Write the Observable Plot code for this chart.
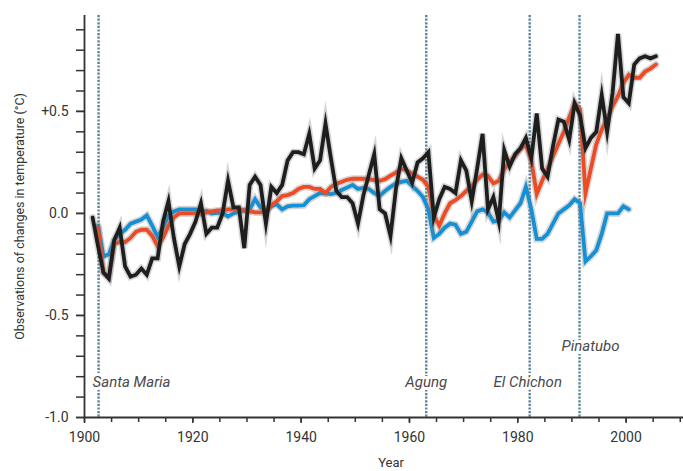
<!DOCTYPE html>
<html><head><meta charset="utf-8">
<script src="https://cdn.jsdelivr.net/npm/d3@7"></script>
<script src="https://cdn.jsdelivr.net/npm/@observablehq/plot@0.6"></script>
<style>
html,body{margin:0;padding:0;background:#fff;}
#chart svg{display:block;}
</style></head><body><div id="chart"></div>
<script>
// Observations (black), 1901–2005
const obsYears = d3.range(1901, 2006);
const observed = [
 -0.02,-0.16,-0.29,-0.32,-0.13,-0.07,-0.26,-0.31,-0.30,-0.27,
 -0.30,-0.22,-0.22,-0.04,0.06,-0.12,-0.26,-0.15,-0.10,-0.04,
 0.05,-0.10,-0.07,-0.07,0.00,0.16,0.03,0.03,-0.17,0.14,
 0.18,0.14,-0.05,0.13,0.10,0.14,0.26,0.30,0.30,0.29,
 0.39,0.22,0.26,0.44,0.27,0.11,0.08,0.08,0.05,-0.05,
 0.09,0.19,0.29,0.02,0.00,-0.11,0.12,0.27,0.21,0.15,
 0.25,0.27,0.30,-0.02,0.07,0.13,0.12,0.10,0.26,0.21,
 0.06,0.22,0.39,0.02,0.08,-0.04,0.31,0.23,0.29,0.32,
 0.37,0.27,0.49,0.22,0.18,0.33,0.46,0.45,0.36,0.54,
 0.48,0.32,0.37,0.40,0.58,0.40,0.59,0.88,0.57,0.54,
 0.73,0.76,0.77,0.76,0.77
];
// Model, all forcings (red), 1902–2005
const modelYears = d3.range(1902, 2006);
const modelAll = [
 -0.07,-0.29,-0.31,-0.15,-0.14,-0.14,-0.12,-0.09,-0.08,
 -0.08,-0.11,-0.16,-0.12,-0.06,-0.02,0.00,0.00,0.00,0.00,
 0.00,0.005,0.01,0.015,0.015,0.02,0.02,0.02,0.015,0.01,
 0.005,0.005,0.01,0.04,0.06,0.085,0.09,0.10,0.12,0.13,
 0.13,0.12,0.12,0.10,0.13,0.145,0.155,0.165,0.17,0.17,
 0.17,0.168,0.163,0.16,0.168,0.185,0.20,0.22,0.21,0.195,
 0.18,0.165,0.13,-0.01,-0.06,0.00,0.05,0.065,0.085,0.11,
 0.135,0.165,0.19,0.184,0.147,0.16,0.217,0.254,0.28,0.315,
 0.336,0.258,0.095,0.16,0.217,0.28,0.34,0.40,0.47,0.54,
 0.51,0.10,0.22,0.34,0.41,0.465,0.525,0.575,0.64,0.68,
 0.665,0.665,0.695,0.71,0.73
];
// Model, natural forcings only (blue), 1902–2000
const naturalYears = d3.range(1902, 2001);
const modelNatural = [
 -0.06,-0.21,-0.20,-0.13,-0.10,-0.08,-0.05,-0.04,-0.03,
 -0.01,-0.06,-0.115,-0.07,-0.01,0.01,0.02,0.02,0.02,0.02,
 0.00,0.013,0.00,0.003,0.003,-0.015,0.00,0.01,0.015,0.02,
 0.07,0.03,0.013,0.035,0.045,0.02,0.035,0.038,0.038,0.04,
 0.07,0.085,0.10,0.098,0.095,0.10,0.115,0.127,0.14,0.12,
 0.125,0.12,0.10,0.087,0.11,0.13,0.147,0.155,0.16,0.135,
 0.11,0.08,0.02,-0.12,-0.10,-0.07,-0.05,-0.055,-0.10,-0.09,
 -0.04,0.01,0.02,0.005,-0.04,-0.035,0.005,-0.02,0.015,0.05,
 0.13,0.02,-0.125,-0.125,-0.10,-0.05,0.00,0.02,0.04,0.07,
 0.05,-0.235,-0.21,-0.18,-0.10,0.00,0.00,0.00,0.035,0.02
];
// Volcanic eruptions
const volcanoYears = [1902.6, 1963.1, 1982.2, 1991.4];
const volcanoNames = ["Santa Maria", "Agung", "El Chichon", "Pinatubo"];
// Ticks
const yMinorTicks = [-1.0,-0.9,-0.8,-0.7,-0.6,-0.5,-0.4,-0.3,-0.2,-0.1,0.0,0.1,0.2,0.3,0.4,0.5,0.6,0.7,0.8,0.9];
const yLabelValues = [-1.0, -0.5, 0.0, 0.5];
const yLabelTexts = ["-1.0", "-0.5", "0.0", "+0.5"];
const xMinorTicks = [1900,1905,1910,1915,1920,1925,1930,1935,1940,1945,1950,1955,1960,1965,1970,1975,1980,1985,1990,1995,2000,2005,2010];
const xLabelValues = [1900, 1920, 1940, 1960, 1980, 2000];
const yTitle = "Observations of changes in temperature (°C)";
const xTitle = "Year";

const obsRows = obsYears.map((y, i) => ({year: y, value: observed[i]}));
const allRows = modelYears.map((y, i) => ({year: y, value: modelAll[i]}));
const natRows = naturalYears.map((y, i) => ({year: y, value: modelNatural[i]}));
const volcanoes = volcanoYears.map((y, i) => ({year: y, name: volcanoNames[i]}));

const xMid = d => d.year + 0.5; // annual means plotted mid-year

function seriesMarks(rows, color) {
  return [
    Plot.line(rows, {x: xMid, y: "value", stroke: "#777", strokeOpacity: 0.3, strokeWidth: 7, strokeLinejoin: "miter", strokeMiterlimit: 8}),
    Plot.line(rows, {x: xMid, y: "value", stroke: color, strokeWidth: 3.8, strokeLinejoin: "miter", strokeMiterlimit: 8})
  ];
}

const labelStyle = {x: "year", text: "name", frameAnchor: "bottom", lineAnchor: "middle", fontStyle: "italic", fontSize: 15, fill: "#4a4a4a", stroke: "white", strokeWidth: 6};

const chart = Plot.plot({
  width: 683,
  height: 471,
  marginLeft: 84,
  marginRight: 0,
  marginTop: 15,
  marginBottom: 54,
  x: {domain: [1900, 2010.6], label: null},
  y: {domain: [-1, 0.97], label: null},
  style: {fontFamily: "Roboto, 'Noto Sans', sans-serif", fontSize: "14px", color: "#333", background: "white"},
  marks: [
    Plot.ruleX(volcanoes, {x: "year", stroke: "#5b8499", strokeWidth: 2.4, strokeDasharray: "2.2,1.4"}),
    ...seriesMarks(natRows, "#1590d4"),
    ...seriesMarks(allRows, "#ef4a22"),
    ...seriesMarks(obsRows, "#1e1e1e"),
    Plot.text(volcanoes.filter(d => d.name === "Santa Maria"), {...labelStyle, textAnchor: "start", dx: -6, dy: -35}),
    Plot.text(volcanoes.filter(d => d.name === "Agung"), {...labelStyle, textAnchor: "middle", dy: -35}),
    Plot.text(volcanoes.filter(d => d.name === "El Chichon"), {...labelStyle, textAnchor: "middle", dx: -2, dy: -35}),
    Plot.text(volcanoes.filter(d => d.name === "Pinatubo"), {...labelStyle, textAnchor: "middle", dx: 11, dy: -71}),
    Plot.axisY({ticks: yMinorTicks, tickSize: 8, tickFormat: () => "", strokeWidth: 1.5, label: null}),
    Plot.axisY({ticks: yLabelValues, tickSize: 8, tickPadding: 8, tickFormat: d => yLabelTexts[yLabelValues.indexOf(d)], strokeWidth: 1.5, fontSize: 14, label: null}),
    Plot.axisX({ticks: xMinorTicks, tickSize: 5, tickFormat: () => "", strokeWidth: 1.5, label: null}),
    Plot.axisX({ticks: xLabelValues, tickSize: 6, tickPadding: 9, tickFormat: d => String(d), strokeWidth: 1.5, fontSize: 14, label: null}),
    Plot.ruleY([-1], {stroke: "#333", strokeWidth: 1.8}),
    Plot.ruleX([1900], {stroke: "#333", strokeWidth: 1.8}),
    Plot.text([yTitle], {frameAnchor: "left", textAnchor: "middle", lineAnchor: "middle", dx: -65, rotate: -90, fontSize: 12.5, fill: "#333"}),
    Plot.text([xTitle], {frameAnchor: "bottom", textAnchor: "middle", lineAnchor: "middle", dy: 45, dx: 7, fontSize: 13, fill: "#333"})
  ]
});
document.getElementById("chart").appendChild(chart);
</script>
</body></html>
